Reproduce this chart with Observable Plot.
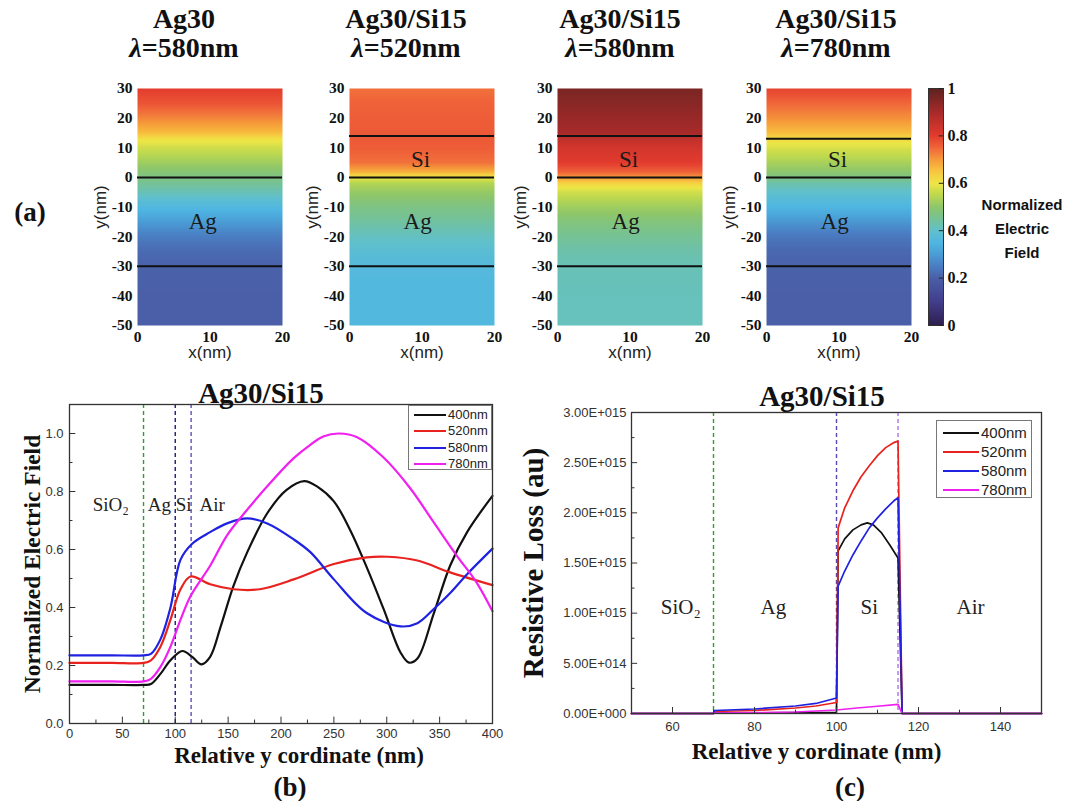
<!DOCTYPE html>
<html>
<head>
<meta charset="utf-8">
<script src="https://cdn.jsdelivr.net/npm/d3@7"></script>
<script src="https://cdn.jsdelivr.net/npm/@observablehq/plot@0.6"></script>
<style>
  body { margin: 0; background: #fff; }
  #root { position: relative; width: 1065px; height: 801px; overflow: hidden; background: #fff; }
  .abs { position: absolute; }
  .serifb { font-family: "Liberation Serif", "Times New Roman", serif; font-weight: bold; color: #111; white-space: nowrap; }
  .ctr { transform: translate(-50%, -50%); text-align: center; }
  .legend { position: absolute; border: 1px solid #777; background: #fff; box-sizing: border-box; }
  .lrow { position: absolute; left: 0; height: 16px; display: flex; align-items: center; font-family: "Liberation Sans", Arial, sans-serif; color: #222; }
  .lline { display: inline-block; border-top: 2px solid #000; }
</style>
</head>
<body>
<div id="root"></div>
<script>
// ---------------- data ----------------
// (a) normalized field along y (nm), uniform in x
const heatYnm = [30, 25, 20, 15, 13, 10, 5, 2, 0, -2, -5, -10, -15, -20, -25, -30, -40, -50];
const fieldAg30_580 = [0.80, 0.77, 0.72, 0.66, 0.61, 0.57, 0.52, 0.49, 0.47, 0.45, 0.42, 0.36, 0.30, 0.25, 0.22, 0.205, 0.20, 0.20];
const fieldSi15_520 = [0.74, 0.755, 0.76, 0.765, 0.765, 0.76, 0.74, 0.68, 0.60, 0.54, 0.51, 0.47, 0.44, 0.41, 0.385, 0.365, 0.36, 0.36];
const fieldSi15_580 = [0.96, 0.94, 0.92, 0.90, 0.86, 0.83, 0.80, 0.76, 0.70, 0.63, 0.57, 0.52, 0.48, 0.45, 0.43, 0.42, 0.415, 0.415];
const fieldSi15_780 = [0.79, 0.75, 0.71, 0.66, 0.62, 0.58, 0.53, 0.50, 0.47, 0.43, 0.40, 0.35, 0.29, 0.24, 0.215, 0.205, 0.20, 0.20];
const linesAg30 = [0, -30];
const linesSi15a = [14, 0, -30];
const linesSi15b = [13, 0, -30];
const heatXTicks = [0, 10, 20];
const heatYTicks = [30, 20, 10, 0, -10, -20, -30, -40, -50];
const labelsAg30 = [{t: "Ag", x: 9, y: -15}];
const labelsSi15 = [{t: "Si", x: 9.8, y: 6}, {t: "Ag", x: 9.4, y: -15}];
const heatTitles = [["Ag30", "580"], ["Ag30/Si15", "520"], ["Ag30/Si15", "580"], ["Ag30/Si15", "780"]];
const cbTicks = [0, 0.2, 0.4, 0.6, 0.8, 1];
const cmapStops = [0, 0.1, 0.2, 0.25, 0.3, 0.35, 0.4, 0.45, 0.5, 0.55, 0.6, 0.65, 0.7, 0.75, 0.8, 0.9, 1];
const cmapColors = ["#2f1e4f", "#423e8c", "#4a5fa8", "#4a7dc2", "#4a9dd6", "#4fb6e2", "#60c0cc", "#76c296", "#8dc66b", "#bcd84f", "#eee646", "#f8c640", "#f59a3a", "#f0663a", "#e33b2e", "#a82a2a", "#5c2320"];

// (b) normalized electric field vs relative y (nm)
const b400 = [[0,0.133],[40,0.133],[70,0.133],[77,0.136],[86,0.171],[95.5,0.218],[106.7,0.25],[116,0.23],[124.7,0.204],[133,0.23],[143,0.335],[155,0.474],[168,0.59],[187,0.725],[205,0.805],[222,0.836],[235,0.815],[250,0.766],[265.7,0.665],[281.5,0.535],[297,0.395],[313,0.245],[321,0.21],[329,0.224],[344.5,0.38],[360,0.545],[376,0.66],[400,0.785]];
const b520 = [[0,0.209],[40,0.209],[70,0.209],[77,0.218],[86,0.265],[95.5,0.358],[105,0.463],[114.5,0.507],[133,0.48],[155,0.463],[180,0.463],[212,0.497],[250,0.55],[281,0.573],[301,0.575],[329,0.562],[360,0.521],[400,0.477]];
const b580 = [[0,0.235],[40,0.235],[70,0.235],[77,0.24],[86,0.29],[95.5,0.40],[105,0.565],[116,0.62],[133,0.66],[149,0.69],[168,0.707],[187,0.69],[212,0.635],[228,0.59],[250,0.497],[281,0.381],[313,0.335],[329,0.346],[344,0.393],[360,0.45],[376,0.515],[400,0.603]];
const b780 = [[0,0.145],[40,0.145],[70,0.145],[77,0.154],[86,0.195],[95.5,0.265],[105,0.358],[114.5,0.44],[133,0.544],[149,0.649],[168,0.737],[187,0.818],[212,0.915],[228,0.962],[240,0.99],[255,1.0],[272,0.987],[297,0.917],[322,0.812],[344,0.696],[366,0.58],[385,0.486],[400,0.387]];
const bXMajor = [0, 50, 100, 150, 200, 250, 300, 350, 400];
const bXMinor = [25, 75, 125, 175, 225, 275, 325, 375];
const bYMajor = [0, 0.2, 0.4, 0.6, 0.8, 1.0];
const bYMinor = [0.1, 0.3, 0.5, 0.7, 0.9];
const bRegions = [{t: "SiO\u2082", x: 39, y: 0.755}, {t: "Ag", x: 85, y: 0.755}, {t: "Si", x: 108, y: 0.755}, {t: "Air", x: 135, y: 0.755}];
const layerBounds = [70, 100, 115];

// (c) resistive loss vs relative y (nm)
const c400 = [[50,0],[70,0],[70.2,0.005e15],[90,0.008e15],[100,0.012e15],[100.4,1.62e15],[102,1.74e15],[104,1.83e15],[106,1.88e15],[107.5,1.9e15],[109,1.88e15],[111,1.8e15],[113,1.68e15],[115,1.55e15],[116,0],[150,0]];
const c520 = [[50,0],[70,0],[70.2,0.02e15],[80,0.03e15],[90,0.055e15],[95,0.075e15],[100,0.11e15],[100.4,1.85e15],[102,2.05e15],[104,2.22e15],[106,2.36e15],[108,2.47e15],[110,2.57e15],[112,2.65e15],[114,2.70e15],[115,2.715e15],[116,0],[150,0]];
const c580 = [[50,0],[70,0],[70.2,0.03e15],[80,0.045e15],[90,0.075e15],[95,0.1e15],[100,0.155e15],[100.4,1.27e15],[102,1.42e15],[104,1.58e15],[106,1.72e15],[108,1.85e15],[110,1.95e15],[112,2.04e15],[114,2.12e15],[115,2.15e15],[116,0],[150,0]];
const c780 = [[50,0],[70,0],[70.2,0.005e15],[80,0.008e15],[90,0.015e15],[100,0.035e15],[105,0.055e15],[110,0.072e15],[115,0.09e15],[116,0],[150,0]];
const cXMajor = [60, 80, 100, 120, 140];
const cXMinor = [70, 90, 110, 130];
const cYMajor = [0, 0.5e15, 1.0e15, 1.5e15, 2.0e15, 2.5e15, 3.0e15];
const cYMinor = [0.25e15, 0.75e15, 1.25e15, 1.75e15, 2.25e15, 2.75e15];
const cRegions = [{t: "SiO\u2082", x: 62, y: 1.06e15}, {t: "Ag", x: 84.6, y: 1.06e15}, {t: "Si", x: 108, y: 1.06e15}, {t: "Air", x: 132.7, y: 1.06e15}];
const seriesLabels = ["400nm", "520nm", "580nm", "780nm"];

// ---------------- styles ----------------
const SERIF = "'Liberation Serif', 'Times New Roman', serif";
const SANS = "'Liberation Sans', Arial, sans-serif";
const seriesColors = ["#111111", "#e8231f", "#1f22e0", "#f020f0"];
const boundColorsB = ["#2ca02c", "#1c1c80", "#6050c0"];
const boundColorsC = ["#2ca02c", "#5a48b0", "#b070f0"];
const colorScale = {type: "linear", domain: cmapStops, range: cmapColors, clamp: true};

const root = document.getElementById("root");
function place(node, left, top) {
  const d = document.createElement("div");
  d.className = "abs";
  d.style.left = left + "px";
  d.style.top = top + "px";
  d.appendChild(node);
  root.appendChild(d);
  return d;
}
function html(str, cls, cx, cy, extra) {
  const d = document.createElement("div");
  d.className = "abs " + cls;
  d.style.left = cx + "px";
  d.style.top = cy + "px";
  if (extra) Object.assign(d.style, extra);
  d.innerHTML = str;
  root.appendChild(d);
  return d;
}

// ---------------- (a) heatmaps ----------------
function heatPanel(field, lines, labels) {
  const pts = heatYnm.flatMap((y, i) => [{x: 0, y, v: field[i]}, {x: 20, y, v: field[i]}]);
  return Plot.plot({
    width: 209, height: 293,
    marginLeft: 50, marginRight: 14, marginTop: 8, marginBottom: 48,
    style: {fontFamily: SERIF, color: "#111", background: "transparent"},
    x: {domain: [0, 20]},
    y: {domain: [-50, 30]},
    color: colorScale,
    marks: [
      Plot.raster(pts, {x: "x", y: "y", fill: "v", x1: 0, x2: 20, y1: -50, y2: 30, interpolate: "barycentric"}),
      Plot.ruleY(lines, {stroke: "#111", strokeWidth: 2}),
      Plot.text(labels, {x: "x", y: "y", text: "t", fontSize: 23, fill: "#1a1a1a", fontFamily: SERIF}),
      Plot.axisX({ticks: heatXTicks, tickSize: 0, tickPadding: 5, tickFormat: d => String(d), fontSize: 15.5, fontWeight: "bold", label: null}),
      Plot.axisY({ticks: heatYTicks, tickSize: 0, tickPadding: 5, tickFormat: d => String(d), fontSize: 15.5, fontWeight: "bold", label: null}),
      Plot.text(["x(nm)"], {frameAnchor: "bottom", dy: 32, fontSize: 17, fontFamily: SANS, fill: "#222"}),
      Plot.text(["y(nm)"], {frameAnchor: "left", dx: -37, rotate: -90, textAnchor: "middle", fontSize: 17, fontFamily: SANS, fill: "#222"})
    ]
  });
}
place(heatPanel(fieldAg30_580, linesAg30, labelsAg30), 87, 80);
place(heatPanel(fieldSi15_520, linesSi15a, labelsSi15), 299, 80);
place(heatPanel(fieldSi15_580, linesSi15a, labelsSi15), 507, 80);
place(heatPanel(fieldSi15_780, linesSi15b, labelsSi15), 716, 80);

// colorbar
place(Plot.plot({
  width: 55, height: 253, marginLeft: 0, marginRight: 40, marginTop: 8, marginBottom: 8,
  style: {fontFamily: SERIF, color: "#111", background: "transparent"},
  x: {domain: [0, 1], axis: null},
  y: {domain: [0, 1]},
  color: colorScale,
  marks: [
    Plot.raster({x1: 0, x2: 1, y1: 0, y2: 1, fill: (x, y) => y}),
    Plot.frame({stroke: "#333"}),
    Plot.ruleY(cbTicks, {x1: 0.72, x2: 1, stroke: "#222"}),
    Plot.axisY({anchor: "right", ticks: cbTicks, tickSize: 0, tickPadding: 4, tickFormat: d => String(d), fontSize: 16, fontWeight: "bold", label: null})
  ]
}), 928, 80);

// ---------------- (b) ----------------
const bMarks = [];
layerBounds.forEach((b, i) => bMarks.push(Plot.ruleX([b], {stroke: boundColorsB[i], strokeDasharray: "4,3", strokeWidth: 1.4})));
[b400, b520, b580, b780].forEach((s, i) => bMarks.push(Plot.line(s, {x: d => d[0], y: d => d[1], stroke: seriesColors[i], strokeWidth: 2.2, curve: "catmull-rom"})));
place(Plot.plot({
  width: 520, height: 400, marginLeft: 69, marginRight: 28, marginTop: 24, marginBottom: 57,
  style: {fontFamily: SANS, color: "#333", background: "transparent"},
  x: {domain: [0, 400]},
  y: {domain: [0, 1.1]},
  marks: [
    ...bMarks,
    Plot.text(bRegions, {x: "x", y: "y", text: "t", fontSize: 19, fontFamily: SERIF, fill: "#222"}),
    Plot.frame({stroke: "#333", strokeWidth: 1.3}),
    Plot.ruleX(bXMajor, {x: d => d, y1: 0, y2: 0.022, stroke: "#333"}),
    Plot.ruleX(bXMinor, {x: d => d, y1: 0, y2: 0.012, stroke: "#333"}),
    Plot.ruleY(bYMajor, {y: d => d, x1: 0, x2: 6, stroke: "#333"}),
    Plot.ruleY(bYMinor, {y: d => d, x1: 0, x2: 3.3, stroke: "#333"}),
    Plot.axisX({ticks: bXMajor, tickSize: 0, tickPadding: 5, fontSize: 13, label: null}),
    Plot.axisY({ticks: bYMajor, tickSize: 0, tickPadding: 6, fontSize: 13, tickFormat: d => d.toFixed(1), label: null}),
    Plot.text(["Normalized Electric Field"], {frameAnchor: "left", dx: -37, rotate: -90, textAnchor: "middle", fontSize: 23.5, fontWeight: "bold", fontFamily: SERIF, fill: "#111"}),
    Plot.text(["Relative y cordinate (nm)"], {frameAnchor: "bottom", dy: 39, dx: 18, fontSize: 23, fontWeight: "bold", fontFamily: SERIF, fill: "#111"})
  ]
}), 0, 380);

// ---------------- (c) ----------------
const sci = d => {
  const e = d === 0 ? 0 : Math.floor(Math.log10(d) + 1e-9);
  const m = d / Math.pow(10, e);
  return m.toFixed(2) + "E+" + String(e).padStart(3, "0");
};
const cMarks = [];
layerBounds.forEach((b, i) => cMarks.push(Plot.ruleX([b], {stroke: boundColorsC[i], strokeDasharray: "4,3", strokeWidth: 1.4})));
[c400, c520, c580, c780].forEach((s, i) => cMarks.push(Plot.line(s, {x: d => d[0], y: d => d[1], stroke: seriesColors[i], strokeWidth: 1.7})));
place(Plot.plot({
  width: 551, height: 393, marginLeft: 121, marginRight: 20, marginTop: 32, marginBottom: 60,
  style: {fontFamily: SANS, color: "#333", background: "transparent"},
  x: {domain: [50, 150]},
  y: {domain: [0, 3e15]},
  marks: [
    ...cMarks,
    Plot.text(cRegions, {x: "x", y: "y", text: "t", fontSize: 21, fontFamily: SERIF, fill: "#222"}),
    Plot.frame({stroke: "#333", strokeWidth: 1.3}),
    Plot.ruleX(cXMajor, {x: d => d, y1: 0, y2: 0.06e15, stroke: "#333"}),
    Plot.ruleX(cXMinor, {x: d => d, y1: 0, y2: 0.033e15, stroke: "#333"}),
    Plot.ruleY(cYMajor, {y: d => d, x1: 50, x2: 51.5, stroke: "#333"}),
    Plot.ruleY(cYMinor, {y: d => d, x1: 50, x2: 50.85, stroke: "#333"}),
    Plot.axisX({ticks: cXMajor, tickSize: 0, tickPadding: 8, fontSize: 13, label: null}),
    Plot.axisY({ticks: cYMajor, tickSize: 0, tickPadding: 5, fontSize: 13, tickFormat: sci, label: null}),
    Plot.text(["Resistive Loss (au)"], {frameAnchor: "left", dx: -98, rotate: -90, textAnchor: "middle", fontSize: 29, fontWeight: "bold", fontFamily: SERIF, fill: "#111"}),
    Plot.text(["Relative y cordinate (nm)"], {frameAnchor: "bottom", dy: 45, dx: -20, fontSize: 23, fontWeight: "bold", fontFamily: SERIF, fill: "#111"})
  ]
}), 510, 380);

// ---------------- texts ----------------
const titleCenters = [184, 406, 620, 836];
heatTitles.forEach((t, i) => {
  html(t[0] + "<br><i>\u03bb</i>=" + t[1] + "nm", "serifb", titleCenters[i], 4,
    {transform: "translateX(-50%)", textAlign: "center", fontSize: "28px", lineHeight: "29px"});
});
html("(a)", "serifb ctr", 30, 212, {fontSize: "27px"});
html("Normalized<br>Electric<br>Field", "ctr", 1022, 229,
  {fontFamily: SANS, fontWeight: "bold", fontSize: "15px", lineHeight: "24px", color: "#111", whiteSpace: "nowrap"});
html("Ag30/Si15", "serifb ctr", 261, 393, {fontSize: "29px"});
html("Ag30/Si15", "serifb ctr", 822, 396, {fontSize: "29px"});
html("(b)", "serifb ctr", 290, 787, {fontSize: "27px"});
html("(c)", "serifb ctr", 850, 787, {fontSize: "27px"});

// legends
function legendBox(left, top, w, h, rowCenters, lineX, lineW, textX, fontSize) {
  const box = document.createElement("div");
  box.className = "legend";
  Object.assign(box.style, {left: left + "px", top: top + "px", width: w + "px", height: h + "px"});
  seriesLabels.forEach((lab, i) => {
    const row = document.createElement("div");
    row.className = "lrow";
    row.style.top = (rowCenters[i] - 8) + "px";
    row.style.fontSize = fontSize + "px";
    const ln = document.createElement("span");
    ln.className = "lline";
    Object.assign(ln.style, {position: "absolute", left: lineX + "px", width: lineW + "px", borderTopColor: seriesColors[i], top: "7px"});
    const tx = document.createElement("span");
    Object.assign(tx.style, {position: "absolute", left: textX + "px", top: "0px", lineHeight: "16px"});
    tx.textContent = lab;
    row.appendChild(ln); row.appendChild(tx);
    box.appendChild(row);
  });
  root.appendChild(box);
}
legendBox(408, 405, 84, 65, [9, 25, 42, 58], 5, 32, 39, 13);
legendBox(936, 420, 96, 78, [12, 31, 50, 69], 6, 36, 44, 15);
</script>
</body>
</html>
